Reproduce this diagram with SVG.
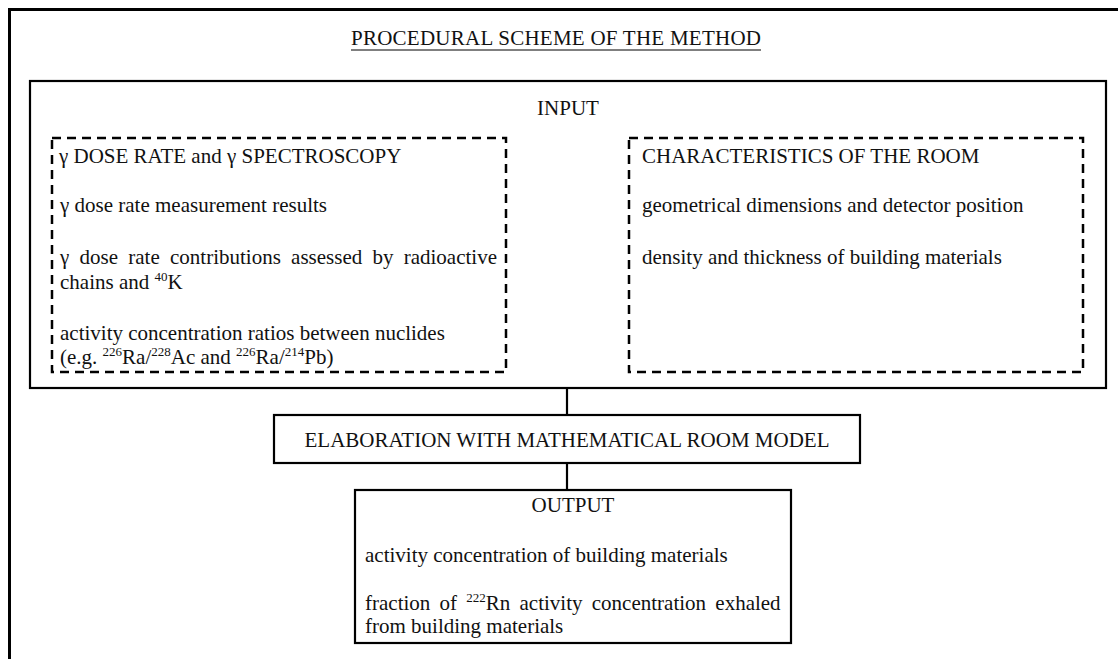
<svg xmlns="http://www.w3.org/2000/svg" width="1118" height="659" viewBox="0 0 1118 659">
<style>
text { font-family: "Liberation Serif", "Times New Roman", serif; font-size: 21px; fill: #111; }
.solid { fill: none; stroke: #000; stroke-width: 2.2; }
.dash { fill: none; stroke: #000; stroke-width: 2.5; stroke-dasharray: 9 6; }
.conn { stroke: #000; stroke-width: 2.2; fill: none; }
.sup { font-size: 13px; }
</style>
<rect width="1118" height="659" fill="#fff"/>
<g id="frame">
  <path d="M9.5,659 V9.5 H1118" fill="none" stroke="#000" stroke-width="3"/>
  <text x="556" y="45" text-anchor="middle" textLength="410" lengthAdjust="spacing">PROCEDURAL SCHEME OF THE METHOD</text>
  <line x1="351" y1="50" x2="761" y2="50" stroke="#000" stroke-width="1.2"/>
</g>
<g id="input">
  <rect class="solid" x="30" y="81" width="1076" height="307"/>
  <text x="568" y="115" text-anchor="middle">INPUT</text>
</g>
<g id="gamma">
  <rect class="dash" x="52" y="138" width="454" height="234"/>
  <text x="59" y="163">γ DOSE RATE and γ SPECTROSCOPY</text>
  <text x="60" y="212">γ dose rate measurement results</text>
  <text x="60" y="264" word-spacing="5">γ dose rate contributions assessed by radioactive</text>
  <text x="60" y="289">chains and <tspan class="sup" dy="-8">40</tspan><tspan dy="8">K</tspan></text>
  <text x="60" y="340">activity concentration ratios between nuclides</text>
  <text x="60" y="364">(e.g. <tspan class="sup" dy="-8">226</tspan><tspan dy="8">Ra/</tspan><tspan class="sup" dy="-8">228</tspan><tspan dy="8">Ac and </tspan><tspan class="sup" dy="-8">226</tspan><tspan dy="8">Ra/</tspan><tspan class="sup" dy="-8">214</tspan><tspan dy="8">Pb)</tspan></text>
</g>
<g id="room">
  <rect class="dash" x="629" y="138" width="454" height="234"/>
  <text x="642" y="163">CHARACTERISTICS OF THE ROOM</text>
  <text x="642" y="212">geometrical dimensions and detector position</text>
  <text x="642" y="264">density and thickness of building materials</text>
</g>
<g id="connectors">
  <line class="conn" x1="567" y1="388" x2="567" y2="415"/>
  <line class="conn" x1="567" y1="463" x2="567" y2="490"/>
</g>
<g id="elaboration">
  <rect class="solid" x="274" y="415" width="586" height="48"/>
  <text x="567" y="447" text-anchor="middle">ELABORATION WITH MATHEMATICAL ROOM MODEL</text>
</g>
<g id="output">
  <rect class="solid" x="355" y="490" width="436" height="153"/>
  <text x="573" y="512" text-anchor="middle">OUTPUT</text>
  <text x="365" y="562">activity concentration of building materials</text>
  <text x="365" y="610" word-spacing="4">fraction of <tspan class="sup" dy="-8">222</tspan><tspan dy="8">Rn activity concentration exhaled</tspan></text>
  <text x="365" y="633">from building materials</text>
</g>
</svg>
